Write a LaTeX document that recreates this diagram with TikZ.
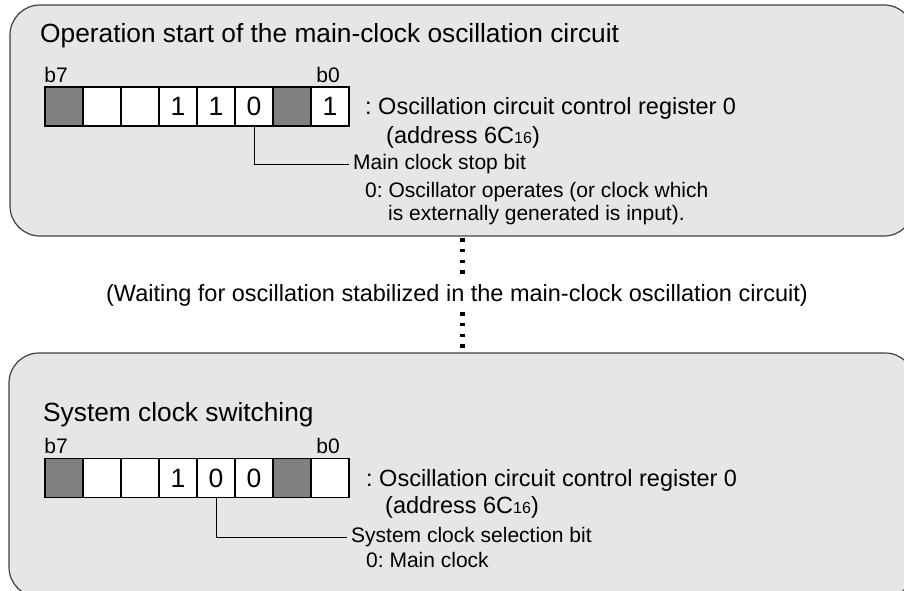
\documentclass[tikz,border=0pt]{standalone}
\usepackage{fontspec}
\setmainfont{Liberation Sans}
\usetikzlibrary{positioning}
\definecolor{panelfill}{RGB}{230,230,230}
\definecolor{panelline}{RGB}{64,64,64}
\definecolor{cellgrey}{RGB}{128,128,128}
\tikzset{
  panel/.style={draw=panelline, fill=panelfill, line width=1.2pt, rounded corners=30pt, inner sep=0pt},
  cell/.style={draw=black, fill=white, line width=1.6pt, minimum width=38pt, minimum height=39pt, inner sep=0pt, font=\fontsize{26.5}{30}\selectfont},
  greycell/.style={cell, fill=cellgrey},
  heading/.style={anchor=base west, inner sep=0pt, font=\fontsize{26.3}{30}\selectfont},
  bitlabel/.style={inner sep=0pt, font=\fontsize{21}{24}\selectfont},
  regtext/.style={anchor=base west, inner sep=0pt, font=\fontsize{23.5}{28}\selectfont},
  note/.style={inner sep=0pt, font=\fontsize{21}{25}\selectfont},
  waitdots/.style={line width=5pt, dash pattern=on 3.5pt off 7.3pt},
  leader/.style={draw=black, line width=0.9pt}
}
\newcommand{\sixc}{6C{\fontsize{16}{18}\selectfont 16}}
\begin{document}
\frenchspacing
\begin{tikzpicture}[x=1pt,y=-1pt]
\useasboundingbox (0,0) rectangle (904,591);
\clip (0,0) rectangle (904,591);
% panels
\node[panel, minimum width=904pt, minimum height=231pt] (start) at (462,120.5) {};
\node[panel, minimum width=906pt, minimum height=244pt] (switch) at (462,475) {};

% operation start
\node[heading] (starttitle) at (40,43) {Operation start of the main-clock oscillation circuit};
\foreach \v/\s [count=\i from 0] in {/greycell,/cell,/cell,1/cell,1/cell,0/cell,/greycell,1/cell}
  \node[\s] (a\i) at ({64+38*\i},106.5) {\v};
\node[bitlabel, anchor=base west] (atag7) at ([yshift=4pt]a0.north west) {b7};
\node[bitlabel, anchor=base] (atag0) at ([xshift=-2pt,yshift=4pt]a7.north) {b0};
\node[regtext] (startreg) at (365,115) {: Oscillation circuit control register 0};
\node[regtext] (startaddr) at (386,143) {(address \sixc)};
\node[note, anchor=west, inner xsep=4pt] (stopbit) at (349,164) {Main clock stop bit};
\draw[leader] (a5.south) |- (stopbit.west);
\node[note, anchor=base west] (stopzero) at (365,197) {0: Oscillator operates (or clock which};
\node[note, anchor=base west] (stopzerob) at (388,220) {is externally generated is input).};

% waiting
\node[regtext, anchor=base] (wait) at (457,301) {(Waiting for oscillation stabilized in the main-clock oscillation circuit)};
\draw[waitdots, shorten <=1.4pt, shorten >=9.8pt] (start.south) -- (start.south |- wait.north);
\draw[waitdots, shorten <=6pt, shorten >=4.4pt] (start.south |- wait.south) -- (switch.north);

% system clock switching
\node[heading] (switchtitle) at (43,421) {System clock switching};
\foreach \v/\s [count=\i from 0] in {/greycell,/cell,/cell,1/cell,0/cell,0/cell,/greycell,/cell}
  \node[\s] (s\i) at ({64+38*\i},478) {\v};
\node[bitlabel, anchor=base west] (stag7) at ([yshift=4pt]s0.north west) {b7};
\node[bitlabel, anchor=base] (stag0) at ([xshift=-2pt,yshift=4pt]s7.north) {b0};
\node[regtext] (switchreg) at (366,486) {: Oscillation circuit control register 0};
\node[regtext] (switchaddr) at (385,513) {(address \sixc)};
\node[note, anchor=west, inner xsep=4pt] (selbit) at (347,537) {System clock selection bit};
\draw[leader] (s4.south) |- (selbit.west);
\node[note, anchor=base west] (selzero) at (366,567) {0: Main clock};
\end{tikzpicture}
\end{document}
